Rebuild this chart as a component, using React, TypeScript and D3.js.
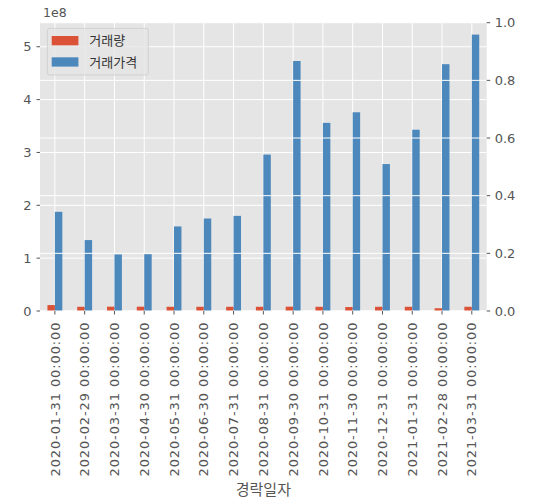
import React from "react";
import * as d3 from "d3";

const categories = [
  "2020-01-31 00:00:00", "2020-02-29 00:00:00", "2020-03-31 00:00:00", "2020-04-30 00:00:00",
  "2020-05-31 00:00:00", "2020-06-30 00:00:00", "2020-07-31 00:00:00", "2020-08-31 00:00:00",
  "2020-09-30 00:00:00", "2020-10-31 00:00:00", "2020-11-30 00:00:00", "2020-12-31 00:00:00",
  "2021-01-31 00:00:00", "2021-02-28 00:00:00", "2021-03-31 00:00:00",
];
const volume = [
  1.12e7, 0.8e7, 0.82e7, 0.82e7, 0.8e7, 0.8e7, 0.8e7, 0.8e7,
  0.82e7, 0.8e7, 0.75e7, 0.8e7, 0.8e7, 0.52e7, 0.8e7,
];
const price = [
  1.877e8, 1.342e8, 1.07e8, 1.075e8, 1.6e8, 1.75e8, 1.8e8, 2.96e8,
  4.73e8, 3.56e8, 3.76e8, 2.78e8, 3.43e8, 4.67e8, 5.23e8,
];
const seriesNames = ["거래량", "거래가격"];
const leftTicks = [0, 1, 2, 3, 4, 5];
const rightTicks = [0, 0.2, 0.4, 0.6, 0.8, 1.0];
const xLabel = "경락일자";
const offsetLabel = "1e8";

const W = 533, H = 504;
const L = 40, R = 486.7, T = 22.7, B = 311;
const RED = "#DB5236";
const BLUE = "#4C88BC";
const TICKC = "#555555";
const FONT = "'DejaVu Sans', sans-serif";
const KFONT = "'Noto Sans CJK KR', sans-serif";

export default function App() {
  const x = d3.scaleLinear().domain([-0.5, categories.length - 0.5]).range([L, R]);
  const yl = d3.scaleLinear().domain([0, 5.455e8]).range([B, T]);
  const yr = d3.scaleLinear().domain([0, 1]).range([B, T]);
  const bw = 0.25;

  return (
    <svg width={W} height={H} style={{ position: "absolute", left: 0, top: 0, background: "#fff" }}>
      <rect x={L} y={T} width={R - L} height={B - T} fill="#E5E5E5" />
      {/* left grid */}
      {leftTicks.map((t) => (
        <line key={"lg" + t} x1={L} x2={R} y1={yl(t * 1e8)} y2={yl(t * 1e8)} stroke="#fff" strokeWidth={1} />
      ))}
      {categories.map((c, i) => (
        <line key={"vg" + i} x1={x(i)} x2={x(i)} y1={T} y2={B} stroke="#fff" strokeWidth={1} />
      ))}
      {/* bars */}
      {volume.map((v, i) => (
        <rect key={"r" + i} x={x(i - bw)} width={x(i) - x(i - bw)} y={yl(v)} height={B - yl(v)} fill={RED} />
      ))}
      {price.map((v, i) => (
        <rect key={"b" + i} x={x(i)} width={x(i + bw) - x(i)} y={yl(v)} height={B - yl(v)} fill={BLUE} />
      ))}
      {/* legend */}
      <g>
        <rect x={47.3} y={28.3} width={101} height={46.7} rx={2.5} fill="#E5E5E5" fillOpacity={0.8} stroke="#CCCCCC" strokeOpacity={0.8} strokeWidth={1} />
        <rect x={51.7} y={36} width={26.7} height={9.3} fill={RED} />
        <rect x={51.7} y={57.3} width={26.7} height={9.3} fill={BLUE} />
        <text x={89.3} y={40.7} dy="0.35em" fontFamily={KFONT} fontSize={13} fill="#333">{seriesNames[0]}</text>
        <text x={89.3} y={62} dy="0.35em" fontFamily={KFONT} fontSize={13} fill="#333">{seriesNames[1]}</text>
      </g>
      {/* right grid (twin axes, drawn on top) */}
      {rightTicks.map((t) => (
        <line key={"rg" + t} x1={L} x2={R} y1={yr(t)} y2={yr(t)} stroke="#fff" strokeWidth={1} />
      ))}
      {/* left ticks */}
      {leftTicks.map((t) => (
        <g key={"lt" + t}>
          <line x1={L - 3.5} x2={L} y1={yl(t * 1e8)} y2={yl(t * 1e8)} stroke={TICKC} strokeWidth={1} />
          <text x={L - 8.5} y={yl(t * 1e8)} dy="0.36em" textAnchor="end" fontFamily={FONT} fontSize={13} fill={TICKC}>{t}</text>
        </g>
      ))}
      <text x={43} y={17} fontFamily={FONT} fontSize={12.5} fill={TICKC}>{offsetLabel}</text>
      {/* right ticks */}
      {rightTicks.map((t) => (
        <g key={"rt" + t}>
          <line x1={R} x2={R + 3.5} y1={yr(t)} y2={yr(t)} stroke={TICKC} strokeWidth={1} />
          <text x={R + 8} y={yr(t)} dy="0.36em" textAnchor="start" fontFamily={FONT} fontSize={13} fill={TICKC}>{t.toFixed(1)}</text>
        </g>
      ))}
      {/* x ticks */}
      {categories.map((c, i) => (
        <g key={"xt" + i}>
          <line x1={x(i)} x2={x(i)} y1={B} y2={B + 3.5} stroke={TICKC} strokeWidth={1} />
          <text
            transform={`translate(${x(i)},${B + 11.5}) rotate(-90)`}
            dy="0.36em"
            textAnchor="end"
            fontFamily={FONT}
            fontSize={13}
            fill={TICKC}
            textLength={154}
            lengthAdjust="spacing"
          >{c}</text>
        </g>
      ))}
      <text x={(L + R) / 2} y={490} dy="0.35em" textAnchor="middle" fontFamily={KFONT} fontSize={15} fill={TICKC}>{xLabel}</text>
    </svg>
  );
}
